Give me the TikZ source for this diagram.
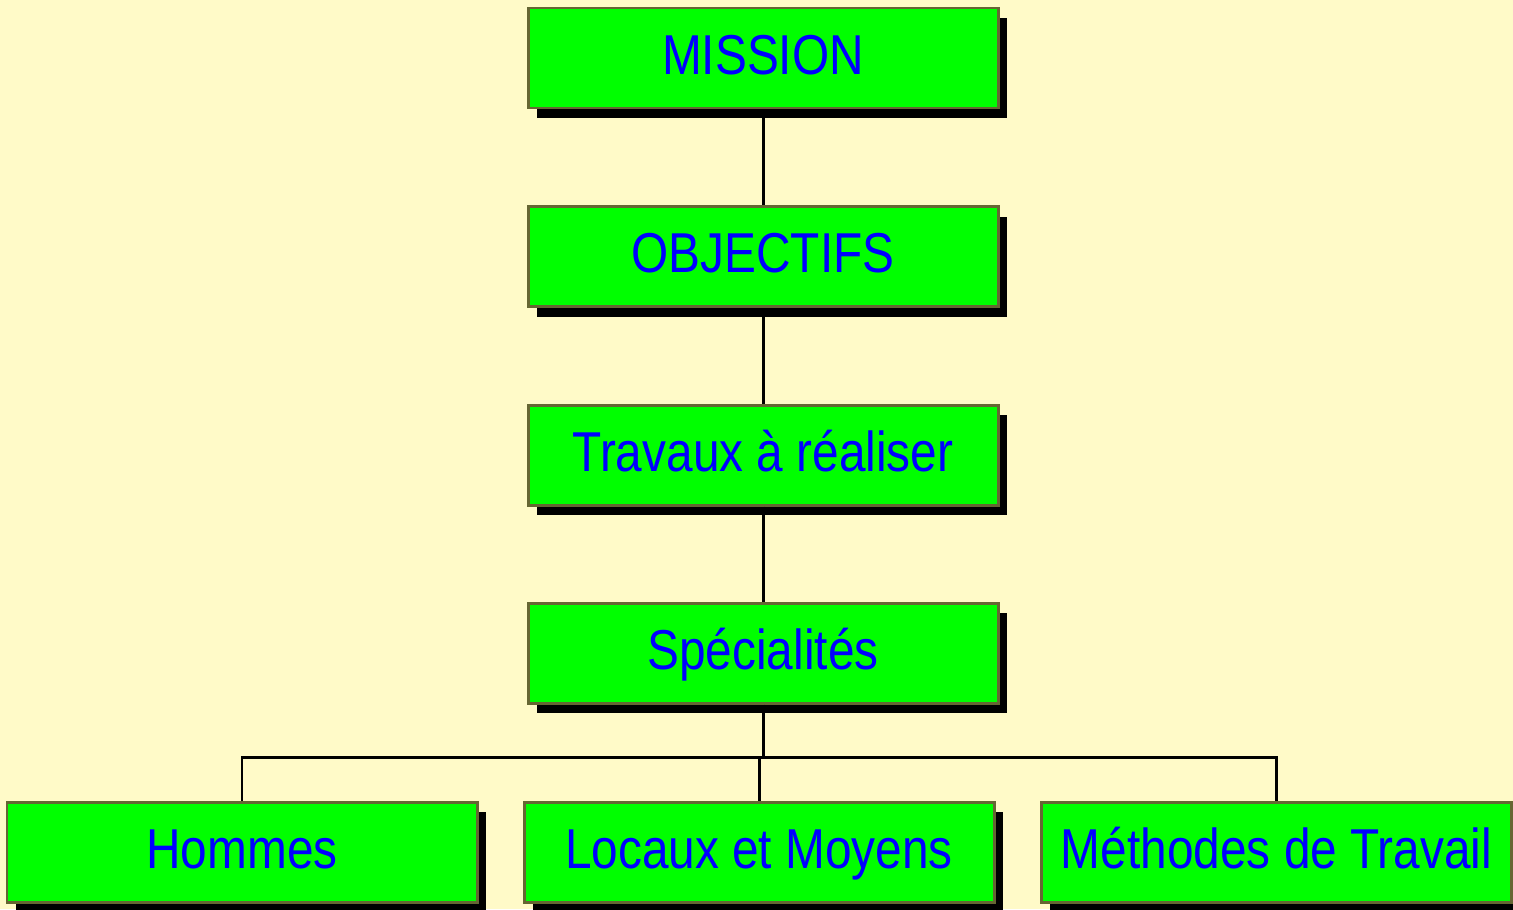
\documentclass[tikz,border=0pt]{standalone}
\usepackage{fontspec}
\setmainfont{Liberation Sans}[FakeStretch=0.85]
\usepackage{tikz}
\usetikzlibrary{positioning,shadows}

\definecolor{fond}{HTML}{FFFAC8}
\definecolor{vert}{HTML}{00FF00}
\definecolor{bord}{HTML}{666633}

\tikzset{
    bloc/.style={rectangle, draw=bord, line width=1.7pt, fill=vert,
        minimum width=9.4cm, minimum height=2cm, inner sep=0pt,
        text height=0.9cm, text depth=0.26cm,
        text=blue, font=\fontsize{32}{38}\selectfont,
        drop shadow={shadow xshift=.17cm, shadow yshift=-.2cm, fill=black, opacity=1}},
    lien/.style={line width=1.7pt, color=black}
}

\begin{document}
\begin{tikzpicture}
                    \fill[fond] (0,0) rectangle (30.26,-18.18);
                    \useasboundingbox (0,0) rectangle (30.26,-18.18);

                    \node[bloc] (mission) at (15.26,-1.16) {MISSION};
                    \node[bloc] (objectifs) at (15.26,-5.13) {OBJECTIFS};
                    \node[bloc] (travaux) at (15.26,-9.10) {Travaux à réaliser};
                    \node[bloc] (specialites) at (15.26,-13.06) {Spécialités};

                    \node[bloc] (hommes) at (4.84,-17.04) {Hommes};
                    \node[bloc] (locaux) at (15.18,-17.04) {Locaux et Moyens};
                    \node[bloc] (methodes) at (25.53,-17.04) {Méthodes de Travail};

                    \coordinate (fourche) at (15.26,-15.14);

                    \draw[lien] (mission) -- (objectifs);
                    \draw[lien] (objectifs) -- (travaux);
                    \draw[lien] (travaux) -- (specialites);
                    \draw[lien] (specialites) -- (fourche);
                    \draw[lien] (hommes.north) |- (fourche) -| (methodes.north);
                    \draw[lien] (locaux.north) -- (locaux.north |- fourche);
                \end{tikzpicture}
\end{document}
